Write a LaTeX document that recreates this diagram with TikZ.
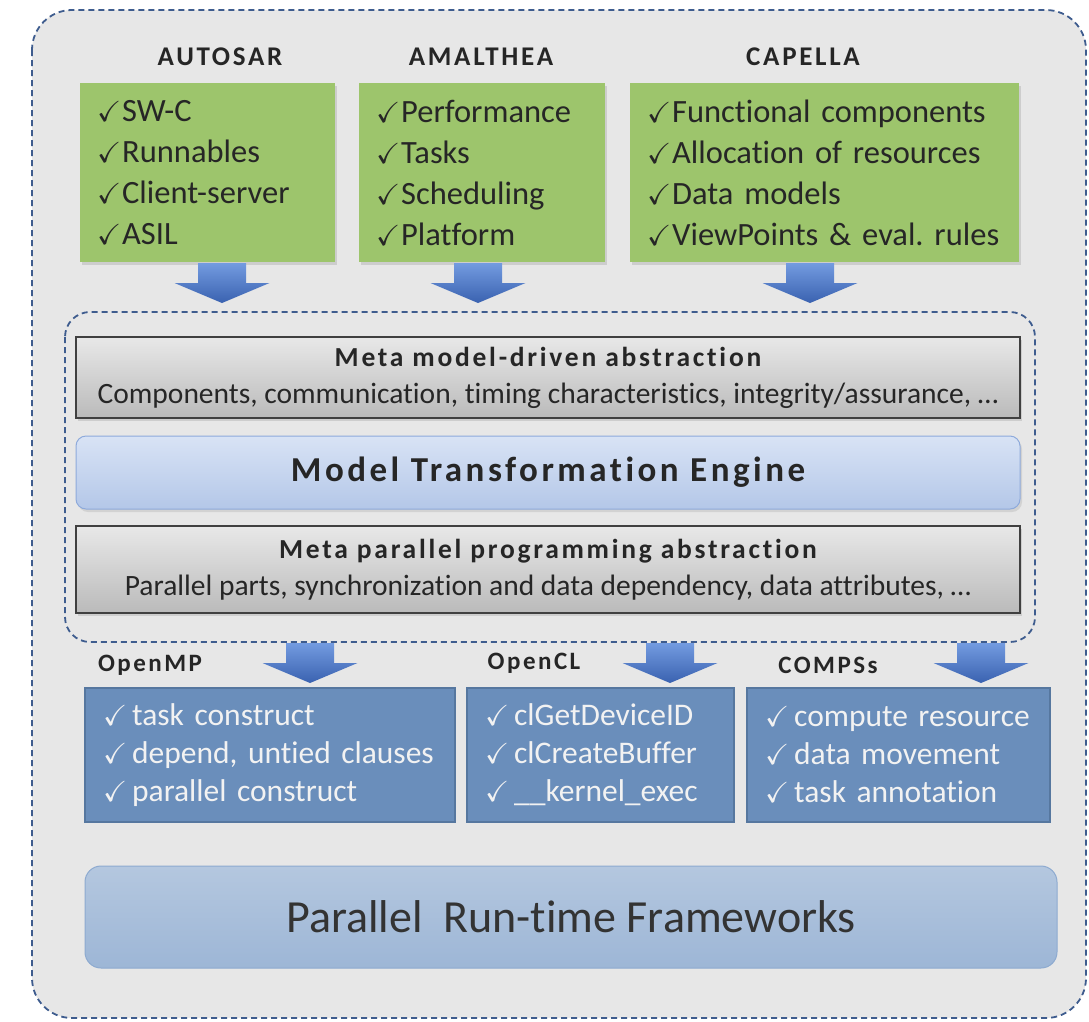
\documentclass[tikz,border=0pt]{standalone}
\usepackage{amssymb}
\usepackage{fontspec}
\setmainfont[Ligatures=NoCommon]{Carlito}
\newfontfamily\spaced[LetterSpace=10,Ligatures=NoCommon]{Carlito}
\usetikzlibrary{shadows}

% colours
\definecolor{panelgray}{HTML}{E7E7E7}
\definecolor{framedash}{HTML}{3E5C8E}
\definecolor{leafgreen}{HTML}{9DC56C}
\definecolor{inkdark}{HTML}{262626}
\definecolor{steelbox}{HTML}{6A8EBB}
\definecolor{steeledge}{HTML}{56779F}
\definecolor{arrowtop}{HTML}{739BE0}
\definecolor{arrowbot}{HTML}{3A62B0}
\definecolor{metaedge}{HTML}{404040}
\definecolor{enginetop}{HTML}{D8E3F5}
\definecolor{enginebot}{HTML}{B4C7E8}
\definecolor{engineedge}{HTML}{8EAADB}
\definecolor{runtop}{HTML}{B4C7DF}
\definecolor{runbot}{HTML}{9DB6D6}
\definecolor{runedge}{HTML}{8DAAD0}

\newcommand\tick{{\fontsize{29}{29}\selectfont$\checkmark$}}
\newcommand\greenitem[1]{\mbox{\tick\hspace{1pt}#1}}
\newcommand\apiitem[1]{\mbox{\tick\hspace{5pt}#1}}

\begin{document}
\frenchspacing
\begin{tikzpicture}[x=1pt,y=-1pt,
  grouplabel/.style={font=\spaced\bfseries\fontsize{27}{30}\selectfont, text=inkdark},
  apilabel/.style={font=\spaced\bfseries\fontsize{25}{30}\selectfont, text=inkdark},
  greenbox/.style={fill=leafgreen, minimum height=179pt, inner xsep=17pt, inner ysep=0pt,
    align=left, text=inkdark, font=\fontsize{32.5}{41}\selectfont,
    drop shadow={opacity=0.25, shadow xshift=2pt, shadow yshift=-3pt}},
  metabox/.style={draw=metaedge, line width=1.5pt, top color=black!9, bottom color=black!27,
    minimum width=944pt, align=center, text=inkdark, font=\fontsize{29.5}{37}\selectfont,
    drop shadow={opacity=0.25, shadow xshift=2pt, shadow yshift=-3pt}},
  engine/.style={draw=engineedge, line width=1pt, rounded corners=10pt,
    top color=enginetop, bottom color=enginebot, minimum width=944pt, minimum height=73pt,
    text=inkdark, font=\spaced\bfseries\fontsize{35}{40}\selectfont,
    drop shadow={opacity=0.2, shadow xshift=2pt, shadow yshift=-3pt}},
  apibox/.style={fill=steelbox, draw=steeledge, line width=1.5pt, minimum height=134pt,
    inner xsep=18pt, inner ysep=0pt, align=left, text=white!95!black,
    font=\fontsize{31.5}{38}\selectfont},
  runtime/.style={draw=runedge, line width=1pt, rounded corners=16pt,
    top color=runtop, bottom color=runbot, minimum width=972pt, minimum height=102pt,
    text=black!80, font=\fontsize{46}{50}\selectfont},
  frame/.style={draw=framedash, line width=1.8pt, dash pattern=on 6pt off 4pt}]

\useasboundingbox (0,0) rectangle (1089,1021);

% outer panel
\draw[frame, fill=panelgray, rounded corners=40pt] (32,10) rectangle (1086,1018);

% modelling inputs
\node[grouplabel] (autosar) at (220,57) {AUTOSAR};
\node[grouplabel] (amalthea) at (481,57) {AMALTHEA};
\node[grouplabel] (capella) at (803,57) {CAPELLA};

\node[greenbox, text width=221pt] (autosarbox) at (207.5,172.5)
  {\greenitem{SW-C}\\ \greenitem{Runnables}\\ \greenitem{Client-server}\\ \greenitem{ASIL}};
\node[greenbox, text width=212pt] (amaltheabox) at (482,172.5)
  {\greenitem{Performance}\\ \greenitem{Tasks}\\ \greenitem{Scheduling}\\ \greenitem{Platform}};
\node[greenbox, text width=355pt] (capellabox) at (824.5,172.5)
  {\greenitem{Functional components}\\ \greenitem{Allocation of resources}\\
   \greenitem{Data models}\\ \greenitem{ViewPoints \& eval. rules}};

% transformation core
\draw[frame, rounded corners=25pt] (65,312) rectangle (1035,642);

\node[metabox, minimum height=81pt] (metamodel) at (548,377.5)
  {{\spaced\bfseries\fontsize{27.5}{37}\selectfont Meta model-driven abstraction}\\
   Components, communication, timing characteristics, integrity/assurance, \dots};
\node[engine] (mte) at (548,472.5) {Model Transformation Engine};
\node[metabox, minimum height=87pt] (metapar) at (548,569.5)
  {{\spaced\bfseries\fontsize{27.5}{37}\selectfont Meta parallel programming abstraction}\\
   Parallel parts, synchronization and data dependency, data attributes, \dots};

% block arrows
\foreach \ax/\ay in {222/263,478/263,810/263,310/643,670/643,981/643}{
  \shade[top color=arrowtop, bottom color=arrowbot]
    (\ax-24,\ay) -- (\ax+24,\ay) -- (\ax+24,\ay+20) -- (\ax+47.5,\ay+20)
    -- (\ax,\ay+40) -- (\ax-47.5,\ay+20) -- (\ax-24,\ay+20) -- cycle;
}

% programming models
\node[apilabel] (openmp) at (150,665) {OpenMP};
\node[apilabel] (opencl) at (534,663) {OpenCL};
\node[apilabel] (compss) at (828,665) {COMPSs};

\node[apibox, text width=334pt] (openmpbox) at (270,755)
  {\apiitem{task construct}\\ \apiitem{depend, untied clauses}\\ \apiitem{parallel construct}};
\node[apibox, text width=231pt] (openclbox) at (600.5,755)
  {\apiitem{clGetDeviceID}\\ \apiitem{clCreateBuffer}\\ \apiitem{\_\_kernel\_exec}};
\node[apibox, text width=267pt] (compssbox) at (898.5,755)
  {\apiitem{compute resource}\\ \apiitem{data movement}\\ \apiitem{task annotation}};

% run-time layer
\node[runtime] (runtimes) at (571,917) {Parallel\ \ Run-time Frameworks};

\end{tikzpicture}
\end{document}
